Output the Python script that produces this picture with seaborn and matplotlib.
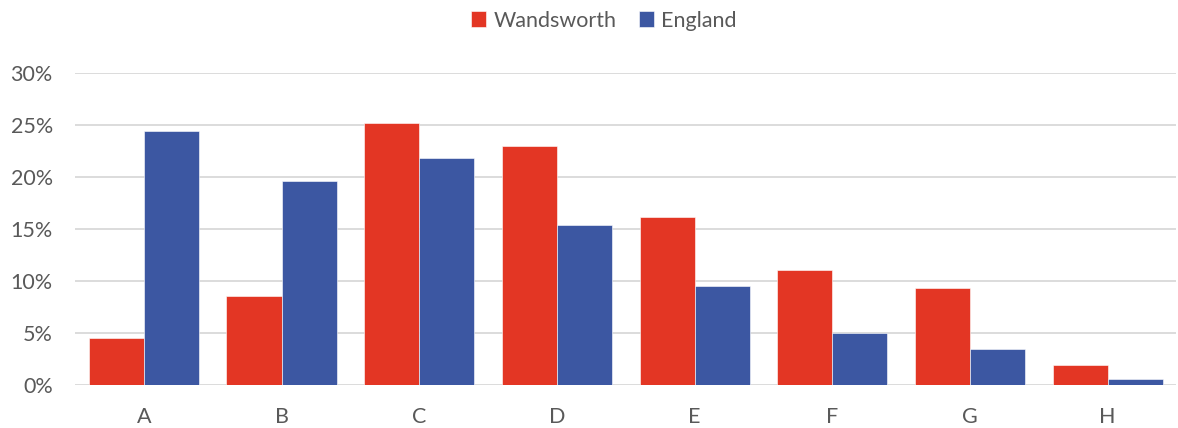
import pandas as pd
import matplotlib
matplotlib.use("Agg")
import matplotlib.pyplot as plt
import seaborn as sns
from matplotlib.ticker import PercentFormatter

# values (share, 0-1)
categories = ["A", "B", "C", "D", "E", "F", "G", "H"]
wandsworth = [0.045, 0.086, 0.252, 0.230, 0.162, 0.111, 0.093, 0.019]
england = [0.244, 0.196, 0.218, 0.154, 0.095, 0.050, 0.035, 0.006]
series_names = ["Wandsworth", "England"]
series_colors = ["#E33624", "#3C57A2"]

df = pd.DataFrame({
    "band": categories * 2,
    "share": wandsworth + england,
    "area": [series_names[0]] * len(categories) + [series_names[1]] * len(categories),
})

sns.set_theme(style="white")
plt.rcParams["font.family"] = ["Lato", "DejaVu Sans"]
text_grey = "#595959"

fig = plt.figure(figsize=(11.78, 4.28), dpi=100)
ax = fig.add_axes([0.0637, 0.1005, 0.935, 0.7289])

sns.barplot(data=df, x="band", y="share", hue="area", order=categories,
            hue_order=series_names, palette=series_colors, width=0.8,
            saturation=1, edgecolor="white", linewidth=0.4, ax=ax, zorder=3)

ax.set_ylim(0, 0.30)
ax.set_xlim(-0.5, len(categories) - 0.5)
ax.set_yticks([0, 0.05, 0.10, 0.15, 0.20, 0.25, 0.30])
ax.yaxis.set_major_formatter(PercentFormatter(1.0, decimals=0))
ax.grid(axis="y", color="#D9D9D9", linewidth=1.3, zorder=0)
ax.set_axisbelow(True)
sns.despine(ax=ax, left=True, bottom=True, top=True, right=True)
ax.tick_params(axis="both", length=0, labelsize=15.5, colors=text_grey)
ax.tick_params(axis="y", pad=16)
ax.tick_params(axis="x", pad=16)
ax.set_xlabel("")
ax.set_ylabel("")

ax.legend_.remove()
handles, labels = ax.get_legend_handles_labels()
fig.legend(handles, labels, loc="center", bbox_to_anchor=(0.5125, 0.952), ncol=2,
           frameon=False, fontsize=15.5, labelcolor=text_grey, handlelength=0.7,
           handleheight=0.7, handletextpad=0.35, columnspacing=1.05)

fig.savefig("out.png", dpi=100)
